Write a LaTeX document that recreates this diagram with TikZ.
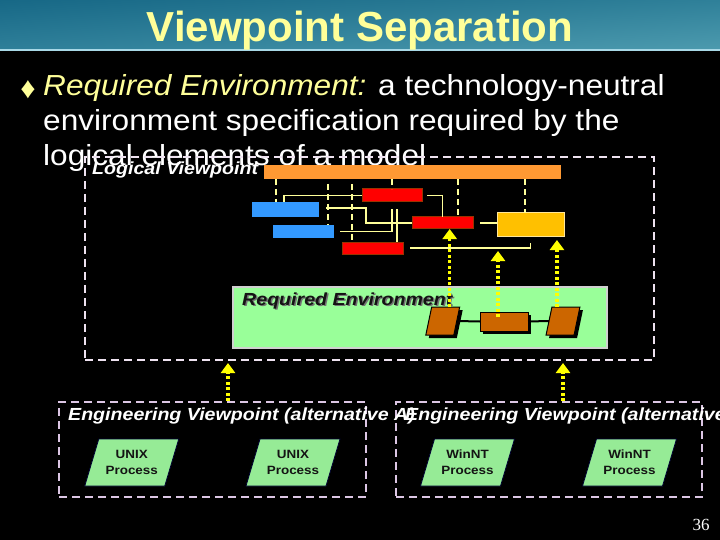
\documentclass[tikz,border=0pt]{standalone}
\usepackage{fontspec}
\setmainfont{Liberation Sans}
\newfontfamily\bodyfont[FakeStretch=1.09]{Liberation Sans}
\newfontfamily\labfont[FakeStretch=1.12]{Liberation Sans}
\newfontfamily\pagenumfont{Liberation Serif}
\usetikzlibrary{arrows.meta,shadows,shadings}
\definecolor{titleyel}{HTML}{FFFF99}
\definecolor{hdrUL}{HTML}{176886}
\definecolor{hdrUR}{HTML}{2F8099}
\definecolor{hdrLL}{HTML}{2E7F99}
\definecolor{hdrLR}{HTML}{4C9AAE}
\definecolor{hdrline}{HTML}{A8D8E6}
\definecolor{connyel}{HTML}{FFFF99}
\definecolor{arrowyel}{HTML}{FFFF00}
\definecolor{barorange}{HTML}{FF9933}
\definecolor{boxblue}{HTML}{3399FF}
\definecolor{boxred}{HTML}{FF0000}
\definecolor{redborder}{HTML}{993300}
\definecolor{boxgold}{HTML}{FFC000}
\definecolor{goldborder}{HTML}{FFE699}
\definecolor{envgreen}{HTML}{99FF99}
\definecolor{envborder}{HTML}{D0D0D0}
\definecolor{compbrown}{HTML}{CC6600}
\definecolor{lavlog}{HTML}{EEE2F0}
\definecolor{laveng}{HTML}{DCC6E4}
\definecolor{procgreen}{HTML}{96EB96}
\definecolor{procborder}{HTML}{000033}
\definecolor{darktext}{HTML}{141414}
\begin{document}
\begin{tikzpicture}[x=1pt,y=-1pt,
  body/.style={font={\bodyfont\fontsize{29}{34}\selectfont}, text=white, inner sep=0pt},
  lab/.style={font={\labfont\fontsize{17.5}{20}\selectfont\bfseries\itshape}, inner sep=0pt},
  blk/.style={rectangle, inner sep=0pt, outer sep=0pt},
  conn/.style={draw=connyel, line width=1.5pt},
  dconn/.style={conn, dash pattern=on 6pt off 4pt},
  yarrow/.style={draw=arrowyel, line width=3.5pt, dash pattern=on 3pt off 2.5pt, -{Triangle[width=14pt,length=10pt]}},
  dashbox/.style={rectangle, draw, line width=2pt, dash pattern=on 8pt off 5pt, inner sep=0pt},
  redbox/.style={blk, fill=boxred, draw=redborder, line width=1pt},
  brownbox/.style={blk, fill=compbrown, draw=black, line width=1pt, drop shadow={shadow xshift=3pt, shadow yshift=-3pt, fill=black, opacity=1}},
  procbox/.style={blk, transform shape, fill=procgreen, draw=procborder, line width=0.8pt, minimum width=80pt, minimum height=47pt},
  proclab/.style={align=center, inner sep=0pt, font={\labfont\fontsize{12}{16}\selectfont\bfseries}, text=darktext}
]
\useasboundingbox (0,0) rectangle (720,540);
\clip (0,0) rectangle (720,540);
\fill[black] (0,0) rectangle (720,540);
% header
\shade[upper left=hdrUL, upper right=hdrUR, lower left=hdrLL, lower right=hdrLR] (0,0) rectangle (720,49);
\draw[hdrline, line width=2pt] (0,50) -- (720,50);
\node[font={\fontsize{42}{48}\selectfont\bfseries}, text=titleyel, anchor=base, inner sep=0pt] (title) at (360,42) {Viewpoint Separation};
% bullet text
\node[text=titleyel, font={\fontsize{30}{30}\selectfont}, inner sep=0pt] (bullet) at (28,90) {♦};
\node[body, anchor=base west] (line1) at (43,96) {{\color{titleyel}\itshape Required Environment:} a technology-neutral};
\node[body, anchor=base west] (line2) at (43,131) {environment specification required by the};
\node[body, anchor=base west] (line3) at (43,166) {logical elements of a model};
% logical viewpoint
\node[dashbox, draw=lavlog, minimum width=569pt, minimum height=203pt, anchor=north west] (logical) at (84,156) {};
\node[lab, text=white, anchor=base west] (loglab) at (92,175) {Logical Viewpoint};
\node[blk, fill=barorange, minimum width=297pt, minimum height=14pt] (bar) at (412.5,172) {};
\node[blk, fill=boxblue, minimum width=67pt, minimum height=15pt] (blue1) at (285.5,209.5) {};
\node[blk, fill=boxblue, minimum width=61pt, minimum height=13pt] (blue2) at (303.5,231.5) {};
\node[redbox, minimum width=60pt, minimum height=13pt] (red1) at (392,195.5) {};
\node[redbox, minimum width=61pt, minimum height=12pt] (red2) at (442.5,223) {};
\node[redbox, minimum width=61pt, minimum height=12pt] (red3) at (372.5,248) {};
\node[blk, fill=boxgold, draw=goldborder, line width=1pt, minimum width=67pt, minimum height=23pt] (gold) at (530.5,224.5) {};
\coordinate (x276) at (276,0);
\coordinate (x458) at (458,0);
\coordinate (x525) at (525,0);
\coordinate (x366) at (366,0);
\coordinate (x397) at (397,0);
\coordinate (c328) at (328,184);
\coordinate (c352) at (352,184);
\coordinate (c326) at (326,208);
\draw[dconn] (bar.south -| x276) -- (blue1.north -| x276);
\draw[dconn] (c328) -- (blue2.north -| c328);
\draw[dconn] (c352) -- (red3.north -| c352);
\draw[dconn] (bar.south -| red1.north) -- (red1.north);
\draw[dconn] (bar.south -| x458) -- (red2.north -| x458);
\draw[dconn] (bar.south -| x525) -- (gold.north -| x525);
\draw[conn] ([xshift=-1.5pt]blue1.north) |- (red1.west);
\draw[conn, shorten <=5pt] (red1.east) -| (red2.north);
\draw[conn] (c326) -| (red2.west -| x366) -- (red2.west);
\draw[conn, shorten <=6pt, shorten >=7pt] (blue2.east) -| (red1.south);
\draw[conn, shorten >=7pt] (red3.north -| x397) -- (red1.south -| x397);
\draw[conn, shorten <=7pt, shorten >=7pt] (red3.east) -| (gold.south);
\draw[conn, shorten <=7pt] (red2.east) -- (red2.east -| gold.west);
% required environment
\node[blk, fill=envgreen, draw=envborder, line width=1.5pt, minimum width=374pt, minimum height=61pt] (reqenv) at (420,317.5) {};
\node[lab, text=black!55, anchor=base west] (reqshadow) at (243.5,306.5) {Required Environment};
\node[lab, text=darktext, anchor=base west] (reqlab) at (242,305) {Required Environment};
\begin{scope}[shift={(442.75,321)}, xslant=0.21]
  \node[brownbox, transform shape, minimum width=28pt, minimum height=28pt] (bl) at (0,0) {};
\end{scope}
\begin{scope}[shift={(563,321)}, xslant=0.21]
  \node[brownbox, transform shape, minimum width=28pt, minimum height=28pt] (br) at (0,0) {};
\end{scope}
\node[brownbox, minimum width=48pt, minimum height=19pt] (bm) at (504,321.5) {};
\draw[line width=2pt] (bl.east) -- (bm.west);
\draw[line width=2pt] (bm.east) -- (br.west);
\coordinate (a1s) at ([xshift=4pt]bl.north);
\coordinate (a2s) at ([xshift=-6pt,yshift=4.5pt]bm.center);
\coordinate (a3s) at ([xshift=-9pt]br.north);
\draw[yarrow] (a1s) -- (a1s |- red2.south);
\draw[yarrow, shorten >=3pt] (a2s) -- (a2s |- red3.east);
\draw[yarrow, shorten >=4pt] (a3s) -- (a3s |- gold.south);
% engineering viewpoints
\node[dashbox, draw=laveng, minimum width=307pt, minimum height=95pt] (eng1) at (212.5,449.5) {};
\node[dashbox, draw=laveng, minimum width=306pt, minimum height=95pt] (eng2) at (549,449.5) {};
\coordinate (e1a) at ([xshift=15.5pt]eng1.north);
\coordinate (e2a) at ([xshift=14pt]eng2.north);
\draw[yarrow, shorten >=2pt] (e1a) -- (e1a |- logical.south);
\draw[yarrow, shorten >=2pt] (e2a) -- (e2a |- logical.south);
\node[lab, text=white, anchor=base west] (eng1lab) at (68,420) {Engineering Viewpoint (alternative A)};
\node[lab, text=white, anchor=base west] (eng2lab) at (405,420) {Engineering Viewpoint (alternative B)};
\begin{scope}[shift={(131.75,462.5)}, xslant=0.298]
  \node[procbox] (p1) at (0,0) {};
\end{scope}
\begin{scope}[shift={(293,462.5)}, xslant=0.298]
  \node[procbox] (p2) at (0,0) {};
\end{scope}
\begin{scope}[shift={(467.5,462.5)}, xslant=0.298]
  \node[procbox] (p3) at (0,0) {};
\end{scope}
\begin{scope}[shift={(629.5,462.5)}, xslant=0.298]
  \node[procbox] (p4) at (0,0) {};
\end{scope}
\node[proclab] (p1lab) at (p1.center) {UNIX\\Process};
\node[proclab] (p2lab) at (p2.center) {UNIX\\Process};
\node[proclab] (p3lab) at (p3.center) {WinNT\\Process};
\node[proclab] (p4lab) at (p4.center) {WinNT\\Process};
\node[font={\pagenumfont\fontsize{17}{17}\selectfont}, text=white, inner sep=0pt] (pnum) at (701,525) {36};
\end{tikzpicture}
\end{document}
